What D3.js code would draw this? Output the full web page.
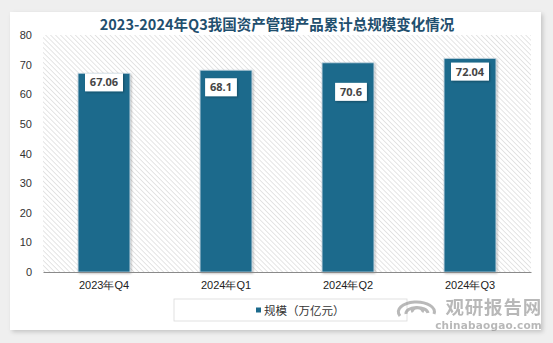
<!DOCTYPE html>
<html>
<head>
<meta charset="utf-8">
<script src="https://cdn.jsdelivr.net/npm/d3@7"></script>
<style>
  html, body { margin: 0; padding: 0; background: #efefef; }
  svg { display: block; font-family: "Noto Sans CJK SC", "Noto Sans", sans-serif; }
</style>
</head>
<body>
<svg id="chart" width="553" height="343"></svg>
<script>
// Asset management products, cumulative scale (trillion yuan)
const categories = ["2023年Q4", "2024年Q1", "2024年Q2", "2024年Q3"];
const values = [67.06, 68.1, 70.6, 72.04];
const valueLabels = ["67.06", "68.1", "70.6", "72.04"];
const yTicks = [0, 10, 20, 30, 40, 50, 60, 70, 80];
const titleText = "2023-2024年Q3我国资产管理产品累计总规模变化情况";
const legendText = "规模（万亿元）";

// label placement below each bar top (px)
const labelDy = [9, 17, 29, 13];
const labelDx = [0, -5, 3, 0];

const svg = d3.select("#chart");
const defs = svg.append("defs");

const shadow = defs.append("filter").attr("id", "shadow")
  .attr("x", "-10%").attr("y", "-10%").attr("width", "130%").attr("height", "130%");
shadow.append("feDropShadow").attr("dx", 2).attr("dy", 2).attr("stdDeviation", 2)
  .attr("flood-color", "#000").attr("flood-opacity", 0.18);

const smallShadow = defs.append("filter").attr("id", "smallShadow")
  .attr("x", "-30%").attr("y", "-30%").attr("width", "160%").attr("height", "160%");
smallShadow.append("feDropShadow").attr("dx", 1).attr("dy", 1).attr("stdDeviation", 1)
  .attr("flood-color", "#000").attr("flood-opacity", 0.3);

const hatch = defs.append("pattern").attr("id", "hatch")
  .attr("patternUnits", "userSpaceOnUse").attr("width", 3.5).attr("height", 3.5)
  .attr("patternTransform", "rotate(-45)");
hatch.append("rect").attr("width", 3.5).attr("height", 3.5).attr("fill", "#ffffff");
hatch.append("line").attr("x1", 0).attr("y1", 0).attr("x2", 0).attr("y2", 3.5)
  .attr("stroke", "#d0d0d0").attr("stroke-width", 1.1);

// card
svg.append("rect").attr("x", 10).attr("y", 12).attr("width", 531).attr("height", 318)
  .attr("fill", "#ffffff").attr("filter", "url(#shadow)");

const margin = { left: 43, right: 531, top: 35, bottom: 272 };

const x = d3.scaleBand().domain(categories).range([margin.left, margin.right]).paddingInner(0.575).paddingOuter(0.2875);
const y = d3.scaleLinear().domain([0, 80]).range([margin.bottom, margin.top]);

// plot area background
svg.append("rect").attr("x", margin.left).attr("y", margin.top)
  .attr("width", margin.right - margin.left).attr("height", margin.bottom - margin.top)
  .attr("fill", "url(#hatch)");

// title
svg.append("text").attr("x", 277).attr("y", 30).attr("text-anchor", "middle")
  .attr("font-size", 14.5).attr("font-weight", "bold").attr("fill", "#1f4f6e")
  .attr("font-family", "'Noto Sans CJK SC', sans-serif")
  .text(titleText);

// y axis (labels only)
const yAxis = d3.axisLeft(y).tickValues(yTicks).tickSize(0).tickPadding(0);
const yG = svg.append("g").attr("transform", `translate(${margin.left - 11},0)`).call(yAxis);
yG.select(".domain").remove();
yG.selectAll("text").attr("font-size", 11).attr("fill", "#333")
  .attr("font-family", "'Liberation Sans', Arial, sans-serif");

// bars
svg.append("g").selectAll("rect").data(values).join("rect")
  .attr("x", (d, i) => x(categories[i]))
  .attr("y", d => y(d))
  .attr("width", x.bandwidth())
  .attr("height", d => y(0) - y(d))
  .attr("fill", "#1c6a8c")
  .attr("stroke", "#b9cfdb").attr("stroke-width", 0.8)
  .attr("filter", "url(#smallShadow)");

// x axis
const xAxis = d3.axisBottom(x).tickSize(0).tickPadding(9);
const xG = svg.append("g").attr("transform", `translate(0,${margin.bottom})`).call(xAxis);
xG.select(".domain").attr("stroke", "#8a8a8a").attr("stroke-width", 1);
xG.selectAll("text").attr("font-size", 11).attr("fill", "#222");

// value labels
const lab = svg.append("g").selectAll("g").data(values).join("g")
  .attr("transform", (d, i) => `translate(${x(categories[i]) + x.bandwidth() / 2 + labelDx[i]},${y(d) + labelDy[i]})`);
lab.append("rect")
  .attr("x", (d, i) => -(valueLabels[i].length * 3.1 + 3.5))
  .attr("y", -9)
  .attr("width", (d, i) => valueLabels[i].length * 6.2 + 7)
  .attr("height", 18)
  .attr("fill", "#ffffff")
  .attr("filter", "url(#smallShadow)");
lab.append("text").attr("text-anchor", "middle").attr("dy", "0.36em")
  .attr("font-size", 11).attr("font-weight", "bold").attr("fill", "#454545")
  .attr("font-family", "'Open Sans', 'Noto Sans', sans-serif")
  .text((d, i) => valueLabels[i]);

// legend
const lg = svg.append("g");
lg.append("rect").attr("x", 174).attr("y", 299).attr("width", 233).attr("height", 22)
  .attr("fill", "#ffffff").attr("stroke", "#d9d9d9").attr("stroke-width", 0.8);
lg.append("rect").attr("x", 256).attr("y", 307.5).attr("width", 5).attr("height", 5).attr("fill", "#1c6a8c");
lg.append("text").attr("x", 264).attr("y", 315).attr("font-size", 11.5).attr("fill", "#333")
  .text(legendText);

// watermark
const wm = svg.append("g").attr("opacity", 0.6);
wm.append("path")
  .attr("d", "M 400 316 a 18 10 0 1 1 34 -2 M 406 314 a 11 6 0 1 1 22 -1 M 413 312 a 5 3 0 1 1 9 0")
  .attr("fill", "none").attr("stroke", "#8c8c8c").attr("stroke-width", 3);
wm.append("text").attr("x", 542).attr("y", 314).attr("text-anchor", "end")
  .attr("font-size", 18.5).attr("font-weight", "bold").attr("fill", "#8a8a8a")
  .attr("letter-spacing", 0.8)
  .text("观研报告网");
wm.append("text").attr("x", 542).attr("y", 329).attr("text-anchor", "end")
  .attr("font-size", 10.5).attr("font-weight", "bold").attr("fill", "#8a8a8a")
  .attr("font-family", "'DejaVu Sans', sans-serif").attr("letter-spacing", 0.2)
  .text("chinabaogao.com");
</script>
</body>
</html>
